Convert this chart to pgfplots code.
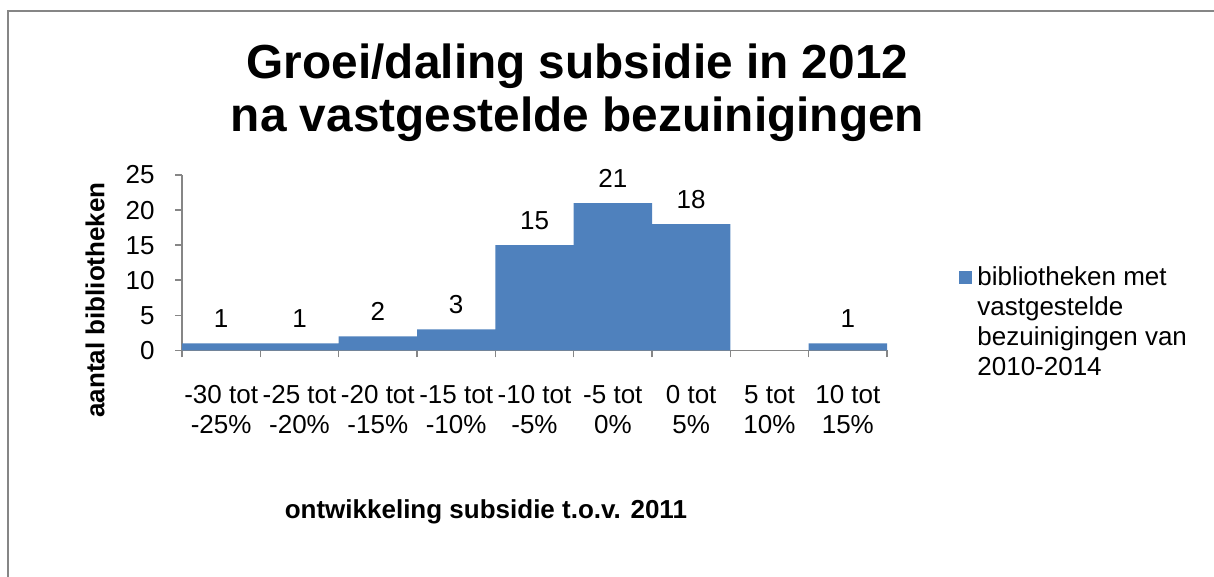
\documentclass[border=0pt]{standalone}
\usepackage{fontspec}
\setmainfont{Liberation Sans}
\usepackage{pgfplots}
\pgfplotsset{compat=1.18}
\definecolor{barblue}{RGB}{79,129,189}
\definecolor{axgray}{RGB}{134,134,134}
\begin{document}
\begin{tikzpicture}
\useasboundingbox (0,0) rectangle (607pt,288.5pt);
\draw[axgray, line width=1.2pt] (4pt,0) -- (4pt,283pt) -- (607pt,283pt);
\node[align=center, font=\bfseries\fontsize{23.9}{26.5}\selectfont] at (288.75pt,242.25pt)
  {Groei/daling subsidie in 2012\\na vastgestelde bezuinigingen};
\begin{axis}[
  at={(91pt,113.25pt)}, anchor=south west,
  scale only axis, width=352.5pt, height=87.75pt,
  xmin=-0.5, xmax=8.5, ymin=0, ymax=25,
  axis x line*=bottom, axis y line*=left,
  axis line style={axgray, line width=0.8pt, -},
  ytick={0,5,...,25},
  xtick={0,...,8},
  xticklabels={{-30 tot\\-25\%},{-25 tot\\-20\%},{-20 tot\\-15\%},{-15 tot\\-10\%},{-10 tot\\-5\%},{-5 tot\\0\%},{0 tot\\5\%},{5 tot\\10\%},{10 tot\\15\%}},
  minor xtick={-0.5,0.5,...,8.5},
  tick align=outside,
  major x tick style={draw=none},
  minor x tick style={axgray, line width=0.8pt},
  ytick style={axgray, line width=0.8pt},
  major tick length=3.5pt, minor tick length=3.5pt,
  /pgf/number format/assume math mode=true,
  xticklabel style={align=center, font=\fontsize{13}{15}\selectfont, anchor=base, inner sep=0pt, yshift=-38.25pt},
  yticklabel style={font=\fontsize{13}{15}\selectfont, anchor=east, inner sep=0pt, xshift=-10pt},
  xlabel={ontwikkeling subsidie t.o.v. 2011},
  xlabel style={at={(axis description cs:0.431,-0.920)}, anchor=center, font=\bfseries\fontsize{13}{15}\selectfont},
  ylabel={aantal bibliotheken},
  ylabel style={at={(axis description cs:-0.1234,0.288)}, anchor=center, font=\bfseries\fontsize{13}{15}\selectfont},
  nodes near coords,
  every node near coord/.append style={anchor=center, yshift=12.5pt, inner sep=0pt, font=\fontsize{13}{15}\selectfont, text=black},
  legend style={at={(1.1021,0.157)}, anchor=west, draw=none, fill=none, inner sep=0pt, font=\fontsize{13}{15}\selectfont, cells={anchor=west, align=left, inner sep=0pt}},
  legend image code/.code={\fill[barblue] (0pt,19.25pt) rectangle (6.5pt,25.75pt); \path (7pt,0pt);},
]
\addplot[ybar, bar width=1, fill=barblue, draw=none] coordinates {
  (0,1) (1,1) (2,2) (3,3) (4,15) (5,21) (6,18) (8,1)
};
\addlegendentry{bibliotheken met\\vastgestelde\\bezuinigingen van\\2010-2014}
\end{axis}
\end{tikzpicture}
\end{document}
